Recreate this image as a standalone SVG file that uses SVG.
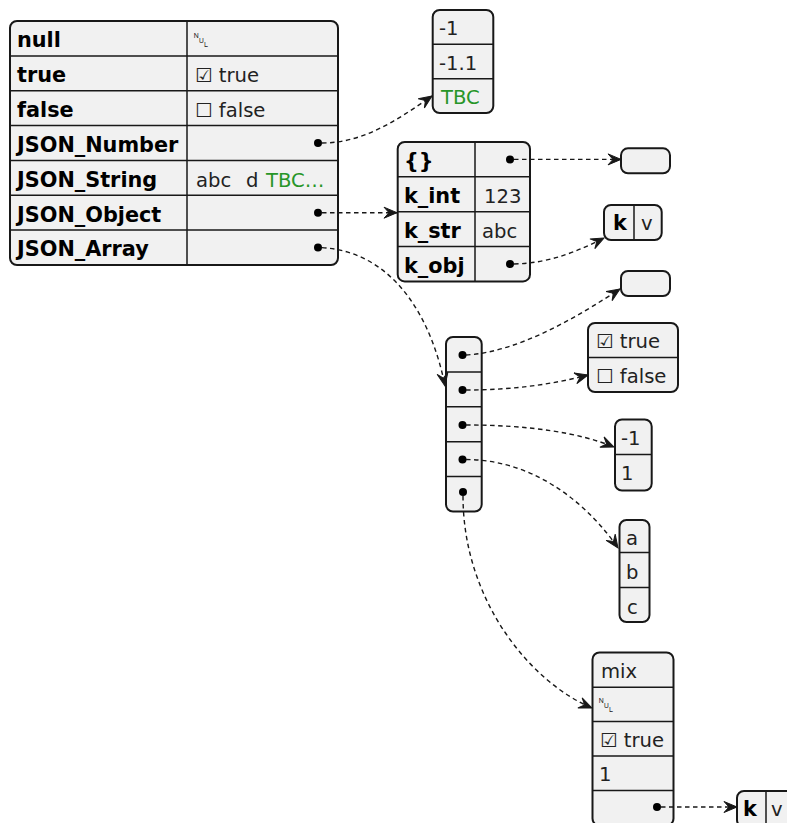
<svg xmlns="http://www.w3.org/2000/svg" width="787" height="823" viewBox="0 0 787 823">
<style>
.box{fill:#f1f1f1;stroke:#181818;stroke-width:2}
.ln{stroke:#181818;stroke-width:1.5;fill:none}
.k{font-family:"DejaVu Sans",sans-serif;font-weight:bold;font-size:20.8px;fill:#000}
.v{font-family:"DejaVu Sans",sans-serif;font-size:19.6px;fill:#222}
.g{fill:#289628}
.dot{fill:#000}
.c{fill:none;stroke:#181818;stroke-width:1.4;stroke-dasharray:4.5 3.5;marker-end:url(#ah)}
</style>
<defs>
<marker id="ah" viewBox="-14 -7 15 14" refX="0" refY="0" markerWidth="15" markerHeight="14" markerUnits="userSpaceOnUse" orient="auto">
<path d="M0,0 L-13,-5.5 L-8,0 L-13,5.5 Z" fill="#181818" stroke="#181818" stroke-width="1"/>
</marker>
</defs>
<rect width="787" height="823" fill="#fff"/>

<g id="root">
<rect class="box" x="10" y="21" width="328" height="244" rx="7"/>
<path class="ln" d="M187,21V265 M10,55.9H338 M10,90.7H338 M10,125.6H338 M10,160.4H338 M10,195.3H338 M10,230.1H338"/>
<text class="k" x="17" y="47">null</text>
<text class="k" x="17" y="82">true</text>
<text class="k" x="17" y="117">false</text>
<text class="k" x="17" y="151.5">JSON_Number</text>
<text class="k" x="17" y="186.5">JSON_String</text>
<text class="k" x="17" y="221.5">JSON_Object</text>
<text class="k" x="17" y="256">JSON_Array</text>
<text class="v" x="193" y="47">␀</text>
<text class="v" x="195" y="82">☑ true</text>
<text class="v" x="195" y="117">☐ false</text>
<text class="v" x="196" y="186.5">abc<tspan x="246">d</tspan><tspan x="266" class="g">TBC…</tspan></text>
<circle class="dot" cx="318" cy="143" r="4"/>
<circle class="dot" cx="318" cy="212.7" r="4"/>
<circle class="dot" cx="318" cy="247.6" r="4"/>
</g>

<g id="numbers">
<rect class="box" x="432.7" y="10" width="60.6" height="103" rx="7"/>
<path class="ln" d="M432.7,44.3H493.3 M432.7,78.7H493.3"/>
<text class="v" x="439" y="35">-1</text>
<text class="v" x="439" y="69.5">-1.1</text>
<text class="v g" x="441" y="104">TBC</text>
</g>

<g id="object">
<rect class="box" x="397.7" y="142" width="132.3" height="139.4" rx="7"/>
<path class="ln" d="M475,142V281.4 M397.7,176.8H530 M397.7,211.7H530 M397.7,246.5H530"/>
<text class="k" x="404" y="168">{}</text>
<text class="k" x="404" y="203">k_int</text>
<text class="k" x="404" y="238">k_str</text>
<text class="k" x="404" y="272.5">k_obj</text>
<text class="v" x="484" y="203">123</text>
<text class="v" x="482" y="238">abc</text>
<circle class="dot" cx="510" cy="159.4" r="4"/>
<circle class="dot" cx="510" cy="264" r="4"/>
</g>

<g id="empty1">
<rect class="box" x="621" y="148.3" width="49" height="25" rx="7"/>
</g>

<g id="kv1">
<rect class="box" x="604" y="205" width="57.7" height="35" rx="7"/>
<path class="ln" d="M634,205V240"/>
<text class="k" x="613" y="230">k</text>
<text class="v" x="641" y="230">v</text>
</g>

<g id="empty2">
<rect class="box" x="621" y="271" width="49" height="25" rx="7"/>
</g>

<g id="array">
<rect class="box" x="446" y="337" width="35.7" height="174.5" rx="7"/>
<path class="ln" d="M446,371.9H481.7 M446,406.8H481.7 M446,441.7H481.7 M446,476.6H481.7"/>
<circle class="dot" cx="462.5" cy="355" r="4"/>
<circle class="dot" cx="462.5" cy="390" r="4"/>
<circle class="dot" cx="462.5" cy="425" r="4"/>
<circle class="dot" cx="462.5" cy="459.5" r="4"/>
<circle class="dot" cx="463" cy="492" r="4"/>
</g>

<g id="bools">
<rect class="box" x="588" y="323" width="90" height="69" rx="7"/>
<path class="ln" d="M588,357.5H678"/>
<text class="v" x="596" y="348">☑ true</text>
<text class="v" x="596" y="383">☐ false</text>
</g>

<g id="nums2">
<rect class="box" x="615" y="419.5" width="36.7" height="71" rx="7"/>
<path class="ln" d="M615,454.5H651.7"/>
<text class="v" x="621" y="445">-1</text>
<text class="v" x="621" y="480">1</text>
</g>

<g id="letters">
<rect class="box" x="619.5" y="520" width="30" height="102" rx="7"/>
<path class="ln" d="M619.5,552.5H649.5 M619.5,587.5H649.5"/>
<text class="v" x="626" y="545">a</text>
<text class="v" x="626" y="579">b</text>
<text class="v" x="627" y="614">c</text>
</g>

<g id="mix">
<rect class="box" x="592.5" y="652.5" width="81" height="173" rx="7"/>
<path class="ln" d="M592.5,687.3H673.5 M592.5,721.5H673.5 M592.5,756H673.5 M592.5,790.5H673.5"/>
<text class="v" x="601" y="678">mix</text>
<text class="v" x="598" y="712">␀</text>
<text class="v" x="600" y="747">☑ true</text>
<text class="v" x="599" y="781">1</text>
<circle class="dot" cx="657" cy="807" r="4"/>
</g>

<g id="kv2">
<rect class="box" x="737" y="791" width="60" height="36" rx="7"/>
<path class="ln" d="M766,791V827"/>
<text class="k" x="743" y="816">k</text>
<text class="v" x="771" y="816">v</text>
</g>

<g id="connectors">
<path class="c" d="M322,143 C365,143 400,118 432,96"/>
<path class="c" d="M322,212.7 L397,212.7"/>
<path class="c" d="M322,247.6 C395,252 432,320 445,386"/>
<path class="c" d="M514,159.4 L621,159.4"/>
<path class="c" d="M514,264 C552,263 580,250 604,238"/>
<path class="c" d="M466,355 C520,352 580,315 620,289"/>
<path class="c" d="M466,390 C510,390 550,385 588,375"/>
<path class="c" d="M466,425 C530,425 580,433 614,447"/>
<path class="c" d="M466,459.5 C540,460 592,510 618,548"/>
<path class="c" d="M463,496 C463,600 530,682 592,708"/>
<path class="c" d="M661,807 L737,807"/>
</g>
</svg>
